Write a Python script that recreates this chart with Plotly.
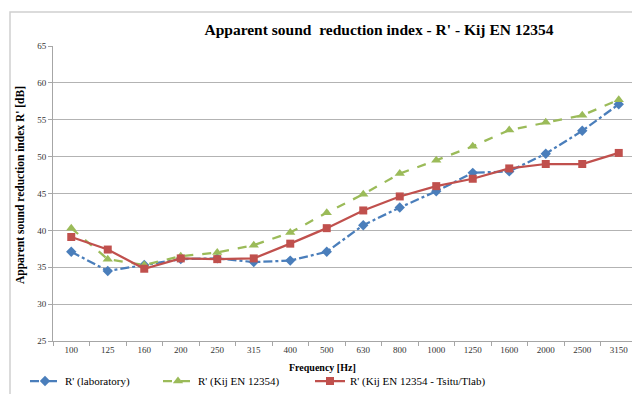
import plotly.graph_objects as go

freqs = ["100", "125", "160", "200", "250", "315", "400", "500", "630", "800",
         "1000", "1250", "1600", "2000", "2500", "3150"]
r_lab = [37.1, 34.5, 35.3, 36.1, 36.2, 35.7, 35.9, 37.1, 40.7, 43.1,
         45.3, 47.8, 48.0, 50.4, 53.5, 57.1]
r_kij = [40.3, 36.1, 35.3, 36.5, 37.0, 38.0, 39.7, 42.4, 44.9, 47.7,
         49.5, 51.4, 53.6, 54.65, 55.6, 57.7]
r_kij_t = [39.1, 37.4, 34.8, 36.2, 36.1, 36.2, 38.2, 40.3, 42.7, 44.6,
           46.0, 47.0, 48.4, 49.0, 49.0, 50.5]

names = ["R' (laboratory)", "R' (Kij EN 12354)", "R' (Kij EN 12354 - Tsitu/Tlab)"]

SERIF = "Liberation Serif, Times New Roman, serif"

fig = go.Figure()
fig.add_trace(go.Scatter(x=freqs, y=r_lab, name=names[0], mode="lines+markers",
                         line=dict(color="#4a7ebb", width=2.25, dash="dashdot"),
                         marker=dict(symbol="diamond", size=8, color="#4a7ebb"),
                         legend="legend"))
fig.add_trace(go.Scatter(x=freqs, y=r_kij, name=names[1], mode="lines+markers",
                         line=dict(color="#9bbb59", width=2.25, dash="dash"),
                         marker=dict(symbol="triangle-up", size=9, color="#9bbb59"),
                         legend="legend2"))
fig.add_trace(go.Scatter(x=freqs, y=r_kij_t, name=names[2], mode="lines+markers",
                         line=dict(color="#c0504d", width=2.25),
                         marker=dict(symbol="square", size=8, color="#c0504d"),
                         legend="legend3"))

# page body has an 8px margin: work in figure coords = screen coords - 8
OFF = 8
W, H = 640 - OFF, 394 - OFF
L, T = 53 - OFF, 46 - OFF
pw, ph = 584, 295
R = W - L - pw
B = H - T - ph

def px_x(p):
    return (p - OFF - L) / pw

def px_y(p):
    return (H - B - (p - OFF)) / ph

def leg(xpos):
    return dict(orientation="h", x=px_x(xpos), xanchor="left",
                y=px_y(381), yanchor="middle",
                font=dict(size=11, color="black", family=SERIF), itemwidth=30,
                bgcolor="rgba(0,0,0,0)")

fig.update_layout(
    width=W, height=H,
    margin=dict(l=L, r=R, t=T, b=B, autoexpand=False),
    paper_bgcolor="white", plot_bgcolor="white",
    font=dict(family=SERIF, color="#333333"),
    title=dict(text="<b>Apparent sound  reduction index - R' - Kij EN 12354</b>",
               x=(379 - OFF) / W, xanchor="center", y=1 - (30 - OFF) / H, yanchor="middle",
               font=dict(size=15.5, color="black", family=SERIF)),
    xaxis=dict(type="category", tickson="boundaries", ticks="outside", ticklen=4,
               tickcolor="#a6a6a6", showline=True, linecolor="#a6a6a6", linewidth=1,
               showgrid=False, tickfont=dict(size=9, color="#333333"),
               automargin=False, range=[-0.5, 15.5]),
    yaxis=dict(range=[25, 65], dtick=5, ticks="outside", ticklen=4, tickcolor="#a6a6a6",
               showline=True, linecolor="#a6a6a6", linewidth=1,
               showgrid=True, gridcolor="#b3b3b3", gridwidth=1,
               tickfont=dict(size=9, color="#333333"), zeroline=False,
               automargin=False),
    legend=leg(25),
    legend2=leg(158),
    legend3=leg(310),
    showlegend=True,
)

fig.add_annotation(text="<b>Apparent sound reduction index R' [dB]</b>", textangle=-90,
                   xref="paper", yref="paper", x=px_x(20), y=px_y(185),
                   xanchor="center", yanchor="middle", showarrow=False,
                   font=dict(size=11.5, color="black", family=SERIF))
fig.add_annotation(text="<b>Frequency [Hz]</b>",
                   xref="paper", yref="paper", x=px_x(322), y=px_y(367),
                   xanchor="center", yanchor="middle", showarrow=False,
                   font=dict(size=10, color="black", family=SERIF))

# outer chart frame (partially cropped in reference)
fig.add_shape(type="rect", xref="paper", yref="paper",
              x0=px_x(10), x1=px_x(700),
              y0=px_y(460), y1=px_y(12),
              line=dict(color="#d0d0d0", width=1.5), layer="below")

fig.write_html("out.html")
